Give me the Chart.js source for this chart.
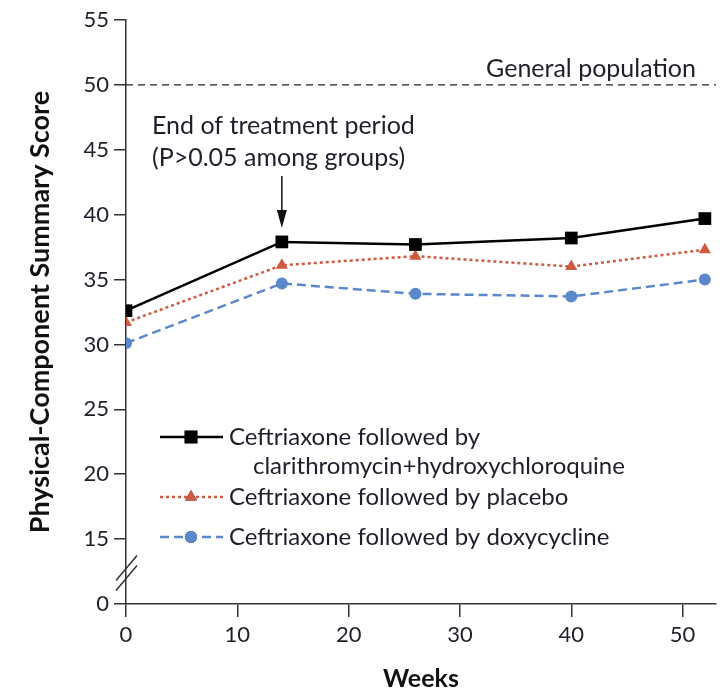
<!DOCTYPE html>
<html>
<head>
<meta charset="utf-8">
<script src="https://cdn.jsdelivr.net/npm/chart.js@4.4.0/dist/chart.umd.min.js"></script>
<style>
  html, body { margin: 0; padding: 0; background: #fff; }
  #wrap { width: 725px; height: 694px; }
</style>
</head>
<body>
<div id="wrap"><canvas id="pcsChart" width="725" height="694"></canvas></div>
<script>
// Physical-component summary score by week, three treatment groups
const weeks = [0, 14, 26, 40, 52];
const clariHcq = [32.6, 37.9, 37.7, 38.2, 39.7];
const placebo = [31.7, 36.1, 36.8, 36.0, 37.3];
const doxy = [30.1, 34.7, 33.9, 33.7, 35.0];
const xTicks = [0, 10, 20, 30, 40, 50];
const yTicks = [15, 20, 25, 30, 35, 40, 45, 50, 55];
const generalPopulation = 50;
const endOfTreatmentWeek = 14;

const seriesLabels = [
    ['Ceftriaxone followed by', 'clarithromycin+hydroxychloroquine'],
    ['Ceftriaxone followed by placebo'],
    ['Ceftriaxone followed by doxycycline']
];

const FONT = 'Lato';
const INK = '#1f1f2b';
const AXIS = '#333';

// axis is broken below 15; value 10 is where "0" sits
const BREAK_BASE = 10;

function toPoints(ys) {
    return weeks.map((w, i) => ({ x: w, y: ys[i] }));
}

// Reference line, annotation, break marks and legend
const extras = {
    id: 'extras',
    afterDraw(chart) {
        const { ctx, chartArea, scales } = chart;
        const x = scales.x, y = scales.y;
        ctx.save();

        // general population line
        const yPop = y.getPixelForValue(generalPopulation);
        ctx.strokeStyle = '#222';
        ctx.lineWidth = 1.2;
        ctx.setLineDash([7, 5]);
        ctx.beginPath();
        ctx.moveTo(chartArea.left, yPop);
        ctx.lineTo(chartArea.right, yPop);
        ctx.stroke();
        ctx.setLineDash([]);

        ctx.fillStyle = INK;
        ctx.font = `25px ${FONT}`;
        ctx.textBaseline = 'middle';
        ctx.textAlign = 'right';
        ctx.fillText('General population', chartArea.right - 20, yPop - 16);

        // end of treatment note and arrow
        ctx.textAlign = 'left';
        ctx.fillText('End of treatment period', 152, 126);
        ctx.fillText('(P>0.05 among groups)', 152, 158);

        const ax = x.getPixelForValue(endOfTreatmentWeek);
        const tipY = y.getPixelForValue(clariHcq[1]) - 14;
        ctx.strokeStyle = '#111';
        ctx.lineWidth = 1.5;
        ctx.beginPath();
        ctx.moveTo(ax, 176);
        ctx.lineTo(ax, tipY - 14);
        ctx.stroke();
        ctx.fillStyle = '#111';
        ctx.beginPath();
        ctx.moveTo(ax - 5, tipY - 18);
        ctx.lineTo(ax + 5, tipY - 18);
        ctx.lineTo(ax, tipY);
        ctx.closePath();
        ctx.fill();

        // axis break slashes
        const bx = chartArea.left;
        const by = (y.getPixelForValue(15) + y.getPixelForValue(BREAK_BASE)) / 2 + 2;
        ctx.strokeStyle = AXIS;
        ctx.lineWidth = 1.5;
        [-5, 5].forEach(off => {
            ctx.beginPath();
            ctx.moveTo(bx - 10, by + off + 12);
            ctx.lineTo(bx + 11, by + off - 13);
            ctx.stroke();
        });

        // legend
        const rows = [437, 497, 537];
        chart.data.datasets.forEach((ds, i) => {
            const ly = rows[i];
            ctx.strokeStyle = ds.borderColor;
            ctx.lineWidth = ds.borderWidth;
            ctx.setLineDash(ds.borderDash || []);
            ctx.beginPath();
            ctx.moveTo(160, ly);
            ctx.lineTo(223, ly);
            ctx.stroke();
            ctx.setLineDash([]);
            Chart.helpers.drawPoint(ctx, {
                pointStyle: ds.pointStyle,
                radius: ds.pointRadius,
                borderWidth: 0,
                rotation: 0
            }, 191, ly);
            ctx.fillStyle = ds.backgroundColor;
            ctx.fill();

            ctx.fillStyle = INK;
            ctx.font = `24px ${FONT}`;
            ctx.textAlign = 'left';
            ctx.fillText(seriesLabels[i][0], 229, ly);
            if (seriesLabels[i][1]) ctx.fillText(seriesLabels[i][1], 253, ly + 29);
        });

        ctx.restore();
    }
};

new Chart(document.getElementById('pcsChart'), {
    type: 'line',
    data: {
        datasets: [
            {
                label: seriesLabels[0].join(' '),
                data: toPoints(clariHcq),
                borderColor: '#000',
                backgroundColor: '#000',
                borderWidth: 2.5,
                pointStyle: 'rect',
                pointRadius: 9,
                pointBorderWidth: 0
            },
            {
                label: seriesLabels[1][0],
                data: toPoints(placebo),
                borderColor: '#cf5a3f',
                backgroundColor: '#cf5a3f',
                borderWidth: 2.5,
                borderDash: [3, 3],
                pointStyle: 'triangle',
                pointRadius: 7,
                pointBorderWidth: 0
            },
            {
                label: seriesLabels[2][0],
                data: toPoints(doxy),
                borderColor: '#5b87cc',
                backgroundColor: '#5b87cc',
                borderWidth: 2.5,
                borderDash: [9, 5],
                pointStyle: 'circle',
                pointRadius: 6,
                pointBorderWidth: 0
            }
        ]
    },
    options: {
        responsive: false,
        animation: false,
        layout: { padding: { top: 20, right: 7, left: 0, bottom: 0 } },
        plugins: {
            legend: { display: false },
            tooltip: { enabled: false }
        },
        scales: {
            x: {
                type: 'linear',
                min: 0,
                max: 53,
                afterBuildTicks: s => { s.ticks = xTicks.map(v => ({ value: v })); },
                afterFit: s => { s.height = 90; },
                border: { color: AXIS, width: 1.5 },
                grid: { display: true, drawOnChartArea: false, tickLength: 13, color: AXIS, lineWidth: 1.5 },
                ticks: { color: INK, font: { family: FONT, size: 22 }, padding: 5, maxRotation: 0 },
                title: {
                    display: true,
                    text: 'Weeks',
                    color: '#111',
                    font: { family: FONT, size: 25, weight: 'bold' },
                    padding: { top: 0, bottom: 0 }
                }
            },
            y: {
                min: BREAK_BASE,
                max: 55,
                afterBuildTicks: s => { s.ticks = [BREAK_BASE, ...yTicks].map(v => ({ value: v })); },
                afterFit: s => { s.width = 126; },
                border: { color: AXIS, width: 1.5 },
                grid: { display: true, drawOnChartArea: false, tickLength: 12, color: AXIS, lineWidth: 1.5 },
                ticks: {
                    color: INK,
                    font: { family: FONT, size: 22 },
                    padding: 5,
                    callback: v => (v === BREAK_BASE ? '0' : String(v))
                },
                title: {
                    display: true,
                    text: 'Physical-Component Summary Score',
                    color: '#111',
                    font: { family: FONT, size: 27, weight: 'bold' },
                    padding: { top: 24, bottom: 0 }
                }
            }
        }
    },
    plugins: [extras]
});
</script>
</body>
</html>
